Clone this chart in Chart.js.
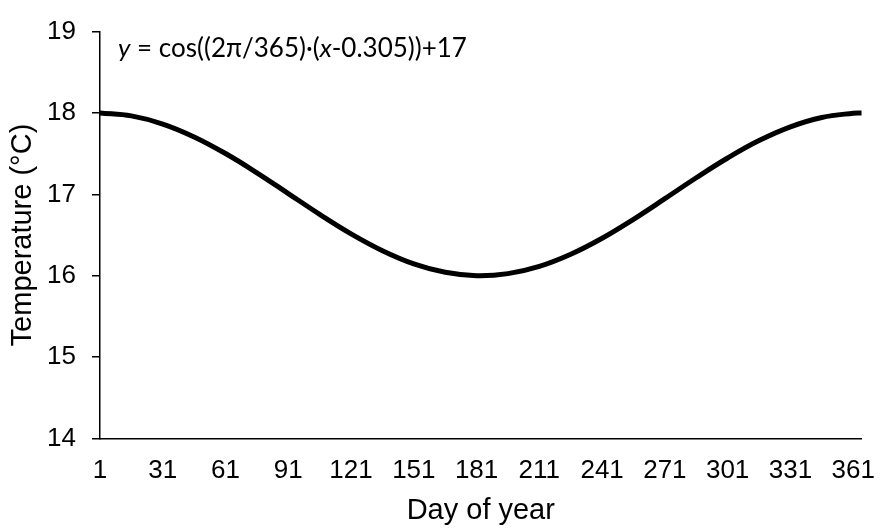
<!DOCTYPE html>
<html>
<head>
<meta charset="utf-8">
<script src="https://cdn.jsdelivr.net/npm/chart.js@4/dist/chart.umd.min.js"></script>
<style>
  html, body { margin: 0; padding: 0; background: #fff; }
  #wrap { width: 892px; height: 528px; }
</style>
</head>
<body>
<div id="wrap"><canvas id="c" width="892" height="528"></canvas></div>
<script>
// day of year and temperature along the curve
const days = [1, 16, 31, 46, 61, 76, 91, 106, 121, 136, 151, 166, 181,
  196, 211, 226, 241, 256, 271, 286, 301, 316, 331, 346, 361, 365];
const temps = [18.000, 17.964, 17.864, 17.706, 17.502, 17.265, 17.010, 16.754,
  16.515, 16.308, 16.146, 16.042, 16.000, 16.026, 16.115, 16.264, 16.461,
  16.694, 16.947, 17.204, 17.447, 17.661, 17.830, 17.945, 17.997, 18.000];
const xTicks = [1, 31, 61, 91, 121, 151, 181, 211, 241, 271, 301, 331, 361];
const yTicks = [14, 15, 16, 17, 18, 19];

const points = days.map((d, i) => ({ x: d, y: temps[i] }));

const axisFont = { family: '"Liberation Sans", Arial', size: 26 };
const titleFont = { family: '"Liberation Sans", Arial', size: 29 };

// equation label in the top-left corner, italic for the variables
const equation = {
  id: 'equation',
  afterDraw(chart) {
    const ctx = chart.ctx;
    const parts = [
      ['y', true], [' = cos((2π/365)·(', false], ['x', true], ['-0.305))+17', false]
    ];
    const size = 26;
    let x = chart.chartArea.left + 18;
    const y = 57;
    ctx.save();
    ctx.fillStyle = '#000';
    ctx.textBaseline = 'alphabetic';
    parts.forEach(([t, it]) => {
      ctx.font = (it ? 'italic ' : '') + size + 'px Lato, sans-serif';
      ctx.fillText(t, x, y);
      x += ctx.measureText(t).width;
    });
    ctx.restore();
  }
};

new Chart(document.getElementById('c'), {
  type: 'line',
  data: {
    datasets: [{
      data: points,
      borderColor: '#000',
      borderWidth: 5,
      borderCapStyle: 'round',
      pointRadius: 0,
      tension: 0.4,
      fill: false
    }]
  },
  options: {
    responsive: false,
    animation: false,
    layout: { padding: { left: 0, right: 13, top: 22, bottom: 0 } },
    scales: {
      x: {
        type: 'linear',
        min: 1,
        max: 365,
        afterBuildTicks: s => { s.ticks = xTicks.map(v => ({ value: v })); },
        afterFit: s => { s.height = 89.5; },
        grid: { display: true, drawOnChartArea: false, drawTicks: false },
        border: { color: '#000', width: 1.5 },
        ticks: {
          color: '#000',
          font: axisFont,
          padding: 17,
          maxRotation: 0,
          autoSkip: false
        },
        title: {
          display: true,
          text: 'Day of year',
          color: '#000',
          font: titleFont,
          padding: { top: 0, bottom: 0 }
        }
      },
      y: {
        min: 14,
        max: 19,
        afterBuildTicks: s => { s.ticks = yTicks.map(v => ({ value: v })); },
        afterFit: s => { s.width = 100; },
        grid: { drawOnChartArea: false, drawTicks: true, tickLength: 8, color: '#000', lineWidth: 1.5 },
        border: { color: '#000', width: 1.5 },
        ticks: {
          color: '#000',
          font: axisFont,
          padding: 16
        },
        title: {
          display: true,
          text: 'Temperature (°C)',
          color: '#000',
          font: titleFont,
          padding: { top: 5.5, bottom: 0 }
        }
      }
    },
    plugins: {
      legend: { display: false },
      tooltip: { enabled: false }
    }
  },
  plugins: [equation]
});
</script>
</body>
</html>
